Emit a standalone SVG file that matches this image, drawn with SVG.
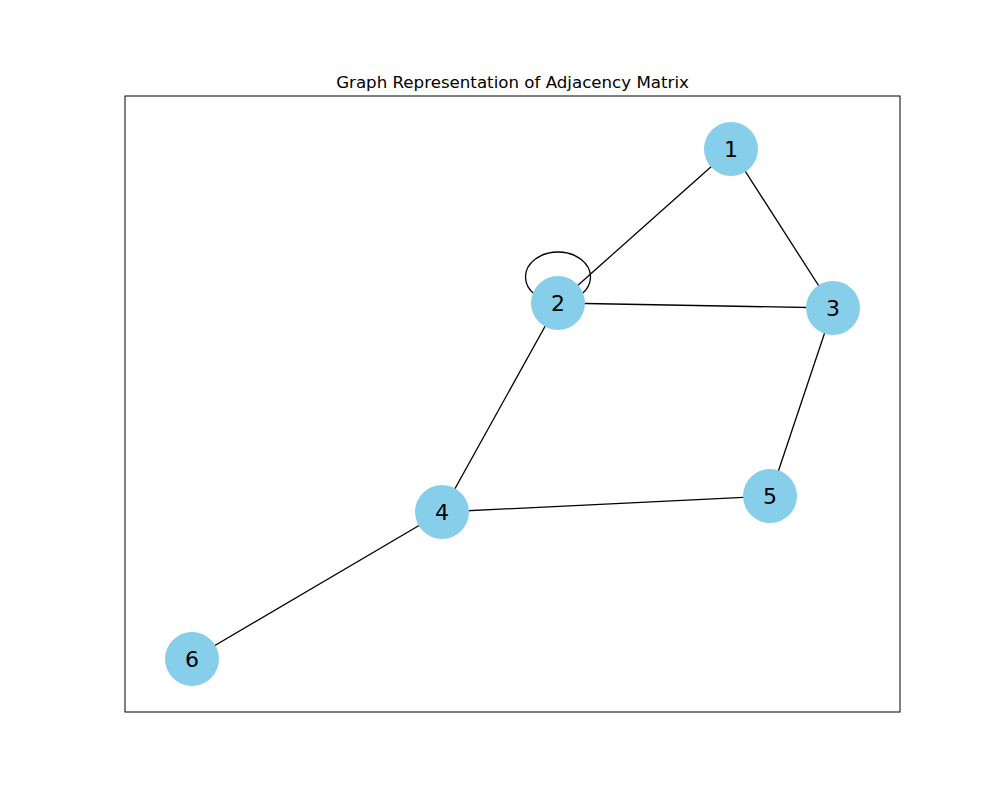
<svg xmlns="http://www.w3.org/2000/svg" width="1000" height="800" viewBox="0 0 1000 800">
<style>
.edge{stroke:#000;stroke-width:1.3;fill:none}
.node circle{fill:#87ceeb}
.node text{font-family:"DejaVu Sans",sans-serif;font-size:22px;text-anchor:middle;dominant-baseline:central;fill:#000}
.title{font-family:"DejaVu Sans",sans-serif;font-size:16.67px;text-anchor:middle;fill:#000}
</style>
<rect width="1000" height="800" fill="#fff"/>
<rect x="125" y="96" width="775" height="616" fill="none" stroke="#000" stroke-width="1"/>
<text class="title" x="512.5" y="88">Graph Representation of Adjacency Matrix</text>
<g id="edges">
<line class="edge" x1="731" y1="149" x2="558" y2="303"/>
<line class="edge" x1="731" y1="149" x2="833" y2="308"/>
<line class="edge" x1="558" y1="303" x2="833" y2="308"/>
<line class="edge" x1="558" y1="303" x2="442" y2="512"/>
<line class="edge" x1="833" y1="308" x2="770" y2="496"/>
<line class="edge" x1="442" y1="512" x2="770" y2="496"/>
<line class="edge" x1="442" y1="512" x2="192" y2="659"/>
<ellipse class="edge" cx="558" cy="277" rx="32.5" ry="25"/>
</g>
<g id="node1" class="node"><circle cx="731" cy="149" r="27"/><text x="731" y="149">1</text></g>
<g id="node2" class="node"><circle cx="558" cy="303" r="27"/><text x="558" y="303">2</text></g>
<g id="node3" class="node"><circle cx="833" cy="308" r="27"/><text x="833" y="308">3</text></g>
<g id="node4" class="node"><circle cx="442" cy="512" r="27"/><text x="442" y="512">4</text></g>
<g id="node5" class="node"><circle cx="770" cy="496" r="27"/><text x="770" y="496">5</text></g>
<g id="node6" class="node"><circle cx="192" cy="659" r="27"/><text x="192" y="659">6</text></g>
</svg>
